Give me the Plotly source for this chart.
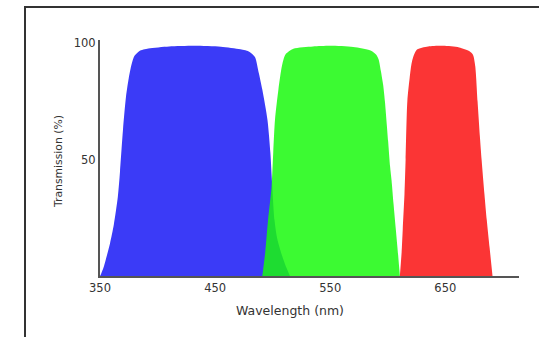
import plotly.graph_objects as go

# ---- data ----
blue_nm = [350, 351, 353, 355, 358.7, 362, 365.5, 367.4, 370, 372.6, 375, 377.5, 380, 384,
           392, 410, 432, 455, 472, 480, 484.6, 488, 491, 495.5, 498, 499.5, 501.6, 504, 508, 512, 515]
blue_t = [0, 1, 3.5, 7, 14, 22, 34, 45, 63, 77, 85, 91, 94.5, 96.5,
          97.6, 98.5, 98.8, 98.4, 97.3, 96.2, 94, 87, 80, 67, 53, 40, 24, 16, 9, 3.5, 0]

green_nm = [491, 493.5, 496, 499, 500.5, 502, 505, 508, 511, 518, 535, 550, 570, 585, 590,
            592, 594, 596, 597.5, 600.3, 602, 603.3, 605, 607, 609, 610.5]
green_t = [0, 10, 24, 38, 53, 67, 80, 90, 95, 97.5, 98.5, 98.8, 98.3, 96.8, 95,
           93, 88, 82, 75, 58, 47, 41, 31, 20, 9, 0]

red_nm = [610.5, 612, 613, 614.5, 615.5, 617, 619, 621, 625, 635, 648, 662, 671, 674,
          676, 678, 680, 681.5, 684, 686, 688.5, 691]
red_t = [0, 10, 20, 35, 50, 75, 85, 92, 97, 98.5, 98.8, 98.1, 96.5, 95,
         90, 75, 60, 50, 35, 24, 12, 0]

x_ticks = [350, 450, 550, 650]
y_ticks = [50, 100]

BLUE = "#3B3BF7"
GREEN = "rgba(26,249,14,0.85)"
RED = "#FB3535"

fig = go.Figure()
for xs, ys, col in [(blue_nm, blue_t, BLUE), (green_nm, green_t, GREEN), (red_nm, red_t, RED)]:
    fig.add_trace(go.Scatter(
        x=xs, y=ys, mode="lines", fill="toself", fillcolor=col,
        line=dict(width=0, color=col, shape="spline", smoothing=0.7),
        hoverinfo="skip", showlegend=False,
    ))

font_family = "DejaVu Sans, Arial, sans-serif"
fig.update_layout(
    width=539, height=337,
    margin=dict(l=100, r=20, t=40, b=61),
    paper_bgcolor="white", plot_bgcolor="white",
    showlegend=False,
    font=dict(family=font_family, size=11, color="#333"),
    xaxis=dict(range=[350, 714], showgrid=False, zeroline=False, showline=True,
               linecolor="#555", linewidth=2, ticks="", tickvals=x_ticks,
               tickfont=dict(size=11.5, color="#333"), fixedrange=True),
    yaxis=dict(range=[0, 101.3], showgrid=False, zeroline=False, showline=True,
               linecolor="#555", linewidth=2, ticks="", tickvals=y_ticks,
               tickfont=dict(size=11.5, color="#333"), fixedrange=True),
    shapes=[dict(type="rect", xref="paper", yref="paper",
                 x0=(25 - 100) / 419, x1=(560 - 100) / 419,
                 y0=(276 - 360) / 236, y1=(276 - 7) / 236,
                 line=dict(color="#333", width=2), fillcolor="rgba(0,0,0,0)", layer="below")],
    annotations=[
        dict(text="Wavelength (nm)", xref="paper", yref="paper",
             x=(290 - 100) / 419, y=(276 - 310) / 236, showarrow=False,
             xanchor="center", yanchor="middle", font=dict(size=12.5, color="#333")),
        dict(text="Transmission (%)", xref="paper", yref="paper",
             x=(58 - 100) / 419, y=(276 - 162) / 236, showarrow=False, textangle=-90,
             xanchor="center", yanchor="middle", font=dict(size=10.8, color="#333")),
    ],
)

fig.write_html("out.html", config={"displayModeBar": False, "staticPlot": True},
               post_script="document.body.style.margin='0';document.body.style.overflow='hidden';")
